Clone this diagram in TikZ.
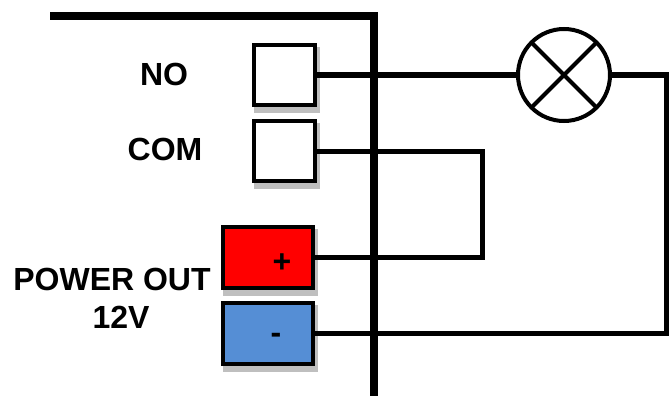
\documentclass[tikz,border=0pt]{standalone}
\usepackage{fontspec}
\setmainfont{Liberation Sans}
\usetikzlibrary{backgrounds}
\tikzset{
    terminal/.style={draw, line width=4pt, inner sep=0pt, outer sep=0pt},
    wire/.style={line width=5pt},
    wall/.style={line width=7.5pt},
    caption/.style={font=\fontsize{32}{36}\selectfont\bfseries, align=center},
}

\begin{document}
\begin{tikzpicture}[x=1pt, y=-1pt]
    \useasboundingbox (0,0) rectangle (669,396);

    \node[terminal, fill=white, minimum width=61pt, minimum height=60pt] (no) at (284.5,75) {};
    \node[terminal, fill=white, minimum width=61pt, minimum height=60pt] (com) at (284.5,151) {};
    \node[terminal, fill=red, minimum width=90pt, minimum height=61pt] (plus) at (268,257.5) {};
    \node[terminal, fill={rgb,255:red,85;green,142;blue,213}, minimum width=90pt, minimum height=61pt] (minus) at (268,333.5) {};

    \begin{scope}[on background layer]
        \foreach \terminalname in {no,com,plus,minus}
            \fill[black!25] ([shift={(0pt,-2pt)}]\terminalname.north west)
                rectangle ([shift={(4.5pt,-8pt)}]\terminalname.south east);
    \end{scope}

    \node[caption] (nolabel) at (164,74) {NO};
    \node[caption] (comlabel) at (165,149) {COM};
    \node[caption] (powerlabel) at (112,279) {POWER OUT};
    \node[caption] (voltlabel) at (121,317) {12V};
    \node[caption] (plussign) at (282,263) {+};
    \node[caption] (minussign) at (276,338) {-};

    \node[circle, draw, line width=4pt, fill=white, inner sep=0pt, outer sep=0pt,
        minimum size=92pt] (lamp) at (564,75) {};
    \draw[line width=4pt] (lamp.north west) -- (lamp.south east);
    \draw[line width=4pt] (lamp.south west) -- (lamp.north east);

    \coordinate (wallstart) at (50,16);
    \coordinate (wallcorner) at (374,16);
    \coordinate (wallend) at (374,396);
    \coordinate (comturn) at (482,151);
    \coordinate (lampturn) at (666,75);

    \draw[wire] (no.east) -- (lamp.west);
    \draw[wire] (com.east) -- (comturn) |- (plus.east);
    \draw[wire] (lamp.east) -- (lampturn) |- (minus.east);
    \draw[wall] (wallstart) -- (wallcorner) -- (wallend);
\end{tikzpicture}
\end{document}
